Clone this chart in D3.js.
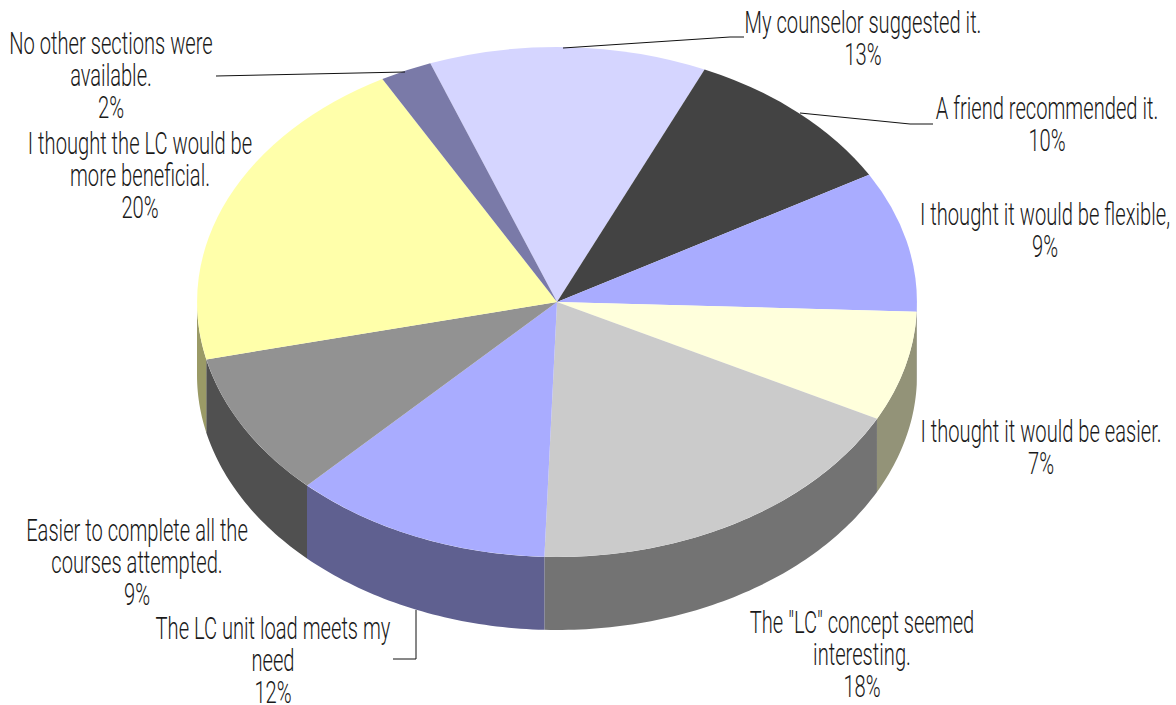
<!DOCTYPE html>
<html><head><meta charset="utf-8">
<script src="https://cdnjs.cloudflare.com/ajax/libs/d3/7.8.5/d3.min.js"></script>
<style>html,body{margin:0;padding:0;background:#fff}svg{display:block}
text{font-family:Roboto,sans-serif;font-weight:300;font-size:31px;fill:#1a1a1a;text-anchor:middle}</style>
</head><body><svg id="c" width="1176" height="705"></svg>
<script>
const categories=["My counselor suggested it.","A friend recommended it.","I thought it would be flexible,","I thought it would be easier.","The \"LC\" concept seemed interesting.","The LC unit load meets my need","Easier to complete all the courses attempted.","I thought the LC would be more beneficial.","No other sections were available."];
const values=[12.44,9.97,8.92,6.97,17.98,11.66,9.17,20.56,2.33];
const percentLabels=["13%","10%","9%","7%","18%","12%","9%","20%","2%"];
const topColors=["#d5d5ff","#434343","#a9acff","#ffffdc","#cbcbcb","#a9acff","#929292","#ffffaa","#7a7aa8"];
const sideColors=["#6a6a80","#222222","#5f6090","#939378","#737373","#5f6090","#505050","#9a9a66","#3d3d54"];
const labelLines=[["My counselor suggested it.","13%"],["A friend recommended it.","10%"],["I thought it would be flexible,","9%"],["I thought it would be easier.","7%"],["The \"LC\" concept seemed","interesting.","18%"],["The LC unit load meets my","need","12%"],["Easier to complete all the","courses attempted.","9%"],["I thought the LC would be","more beneficial.","20%"],["No other sections were","available.","2%"]];
const labelCenters=[863,1047,1045,1041,862,273,137,140,111];
const labelBaselines=[33,119,225,442,633,639,541,154,54];
const leaders=[[[563,48],[730,37],[744,37]],[[800,113],[910,124],[933,124]],[[416,610],[416,659],[393,659]],[[216,76],[405,72]]];

const cx=557,cy=302,rx=360,ry=255,depth=73,lineGap=32,squeeze=0.65;
const startDeg=-20.6;
const svg=d3.select("#c");
const pie=d3.pie().sort(null).startAngle(startDeg*Math.PI/180).endAngle((startDeg+360)*Math.PI/180);
const arcs=pie(values);
const px=d3.scaleLinear().domain([-1,1]).range([cx-rx,cx+rx]);
const py=d3.scaleLinear().domain([-1,1]).range([cy-ry,cy+ry]);
const wall=d3.area().x(t=>px(Math.sin(t))).y0(t=>py(-Math.cos(t))).y1(t=>py(-Math.cos(t))+depth);
// side walls (front half only)
const sides=svg.append("g");
arcs.forEach((a,i)=>{
  for(const off of [0,2*Math.PI]){
    const lo=Math.max(a.startAngle+off,Math.PI/2),hi=Math.min(a.endAngle+off,3*Math.PI/2);
    if(hi>lo){
      const n=Math.max(2,Math.ceil((hi-lo)*60));
      const ts=d3.range(n+1).map(k=>lo+(hi-lo)*k/n);
      sides.append("path").attr("d",wall(ts)).attr("fill",sideColors[i]);
    }
  }
});
// top face: unit-radius arcs in an elliptical scale
const arc=d3.arc().innerRadius(0).outerRadius(1);
svg.append("g").attr("transform",`translate(${cx},${cy}) scale(${rx},${ry})`)
  .selectAll("path").data(arcs).join("path").attr("d",arc).attr("fill",(d,i)=>topColors[i]);
// leaders
const ln=d3.line();
svg.append("g").selectAll("path").data(leaders).join("path").attr("d",ln).attr("fill","none").attr("stroke","#111").attr("stroke-width",1);
// labels
labelLines.forEach((lines,i)=>{
  lines.forEach((s,j)=>{
    svg.append("text").attr("transform",`translate(${labelCenters[i]},${labelBaselines[i]+j*lineGap}) scale(${squeeze},1)`).text(s);
  });
});
</script></body></html>
